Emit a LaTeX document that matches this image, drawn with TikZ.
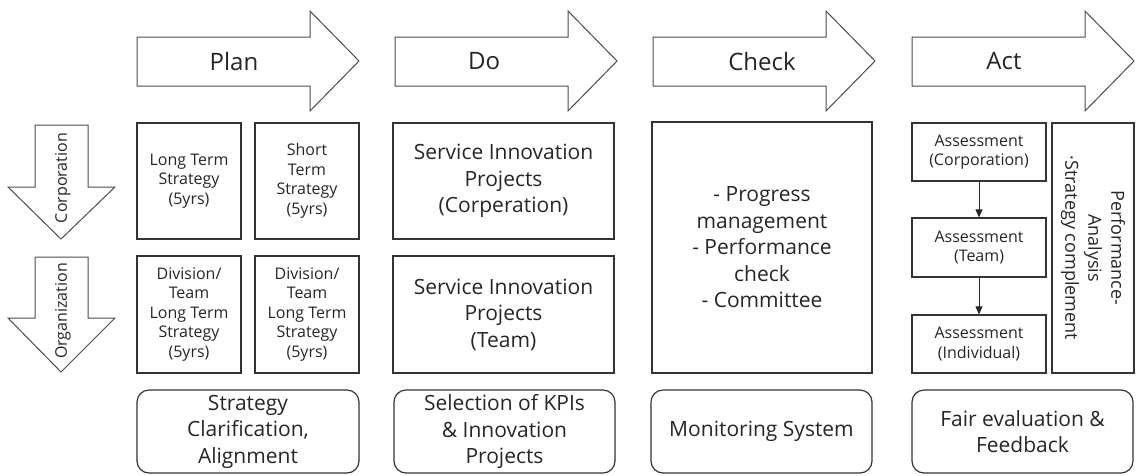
\documentclass[tikz,border=0pt]{standalone}
\usepackage{fontspec}
\setmainfont{Open Sans}
\usetikzlibrary{arrows.meta}
\begin{document}
\begin{tikzpicture}[x=1pt,y=-1pt,
  shp/.style={draw=black!70, line width=1pt, fill=white},
  box/.style={draw=black!80, line width=1.2pt, inner sep=0pt, align=center, text=black!85},
  rbox/.style={box, rounded corners=12pt},
  head/.style={text=black!85, font=\fontsize{24}{28}\selectfont},
  big/.style={font=\fontsize{21}{26.5}\selectfont},
  small/.style={font=\fontsize{16}{19.5}\selectfont},
  side/.style={text=black!85, font=\fontsize{16}{19}\selectfont},
  conn/.style={draw=black!85, line width=1pt, -{Triangle[width=7pt,length=8pt]}}
]
\useasboundingbox (0,0) rectangle (1137,475);

% PDCA arrows
\foreach \x/\tx/\nm/\lab in {137/234/plan/Plan, 395/484/do/Do, 653/762/check/Check, 912/1004/act/Act}{
  \draw[shp] (\x,37) -- ++(173,0) -- ++(0,-26) -- ++(49,50) -- ++(-49,50) -- ++(0,-25) -- (\x,86) -- cycle;
  \node[head] (\nm) at (\tx,61) {\lab};
}

% level arrows
\draw[shp] (35,125) -- (88,125) -- (88,187) -- (115,187) -- (61,239) -- (8,187) -- (35,187) -- cycle;
\node[side, rotate=90] (corp) at (63,178) {Corporation};
\draw[shp] (35,257) -- (88,257) -- (88,318) -- (115,318) -- (61,372) -- (8,318) -- (35,318) -- cycle;
\node[side, rotate=90] (org) at (63,311) {Organization};

% Plan boxes
\node[box, small, minimum width=104pt, minimum height=116pt] (lts) at (189,181) {Long Term\\Strategy\\(5yrs)};
\node[box, small, minimum width=104pt, minimum height=116pt] (sts) at (307,181) {Short\\Term\\Strategy\\(5yrs)};
\node[box, small, minimum width=104pt, minimum height=117pt] (dlt1) at (189,314.5) {Division/\\Team\\Long Term\\Strategy\\(5yrs)};
\node[box, small, minimum width=104pt, minimum height=117pt] (dlt2) at (307,314.5) {Division/\\Team\\Long Term\\Strategy\\(5yrs)};

% Do boxes
\node[box, big, minimum width=221pt, minimum height=116pt] (sip1) at (503.5,181) {Service Innovation\\Projects\\(Corperation)};
\node[box, big, minimum width=221pt, minimum height=117pt] (sip2) at (503.5,314.5) {Service Innovation\\Projects\\(Team)};

% Check box
\node[box, big, minimum width=220pt, minimum height=251pt] (chk) at (762,247.5) {- Progress\\management\\- Performance\\check\\- Committee};

% Act boxes
\node[box, small, minimum width=134pt, minimum height=58pt] (a1) at (979,152) {Assessment\\(Corporation)};
\node[box, small, minimum width=134pt, minimum height=59pt] (a2) at (979,247.5) {Assessment\\(Team)};
\node[box, small, minimum width=134pt, minimum height=58pt] (a3) at (979,344) {Assessment\\(Individual)};
\draw[conn] (a1) -- (a2);
\draw[conn] (a2) -- (a3);
\node[box, minimum width=82pt, minimum height=250pt] (perf) at (1093,248) {};
\node[text=black!85, align=center, rotate=-90, font=\fontsize{18}{23}\selectfont] (perft) at (perf.center) {Performance-\\Analysis\\·Strategy complement};

% bottom boxes
\node[rbox, big, minimum width=222pt, minimum height=83pt] (b1) at (248,431.5) {Strategy\\Clarification,\\Alignment};
\node[rbox, big, minimum width=221pt, minimum height=83pt] (b2) at (504.5,431.5) {Selection of KPIs\\\& Innovation\\Projects};
\node[rbox, big, minimum width=221pt, minimum height=83pt] (b3) at (761.5,431.5) {Monitoring System};
\node[rbox, big, minimum width=221pt, minimum height=83pt] (b4) at (1022.5,431.5) {Fair evaluation \&\\Feedback};
\end{tikzpicture}
\end{document}
